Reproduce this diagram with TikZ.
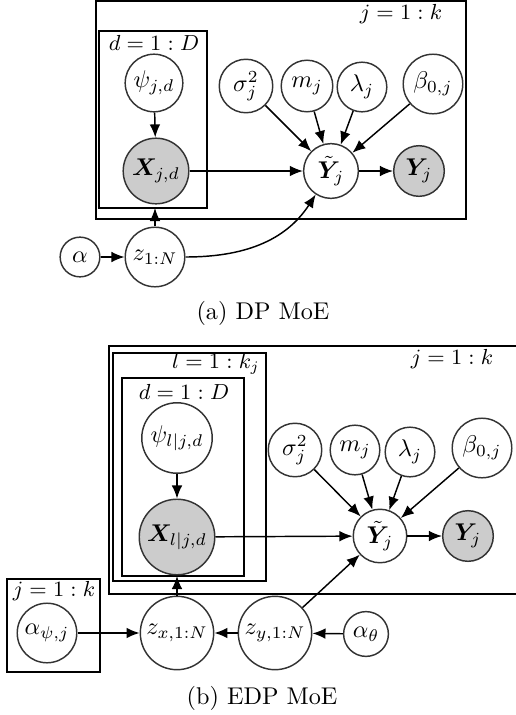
\documentclass[tikz,border=0pt]{standalone}
\usepackage{bm}
\usetikzlibrary{arrows.meta}
\tikzset{
  var/.style={circle,draw=black!80,line width=0.6pt,inner sep=0pt,fill=white},
  obs/.style={var,fill=black!20},
  plate/.style={draw=black,line width=0.85pt},
  platelabel/.style={inner sep=0pt,font=\fontsize{8.6pt}{10pt}\selectfont},
  edge/.style={draw=black,line width=0.6pt,-{Latex[length=5.4pt,width=4.4pt]}},
}
\begin{document}
\begin{tikzpicture}[x=0.413pt,y=-0.413pt]
\useasboundingbox (0,0) rectangle (516,715);

% ---------------- (a) DP MoE ----------------
\draw[plate] (96,1) rectangle (466,219);
\node[platelabel] (alabj) at (401,14) {$j=1:k$};
\draw[plate] (99,31) rectangle (207,208);
\node[platelabel] (alabd) at (154,43) {$d=1:D$};
\coordinate (aplateS) at (154,208);

\node[var,minimum size=23.8pt] (apsi) at (154,83) {$\psi_{j,d}$};
\node[obs,minimum size=27.1pt] (aX) at (156,171) {$\bm{X}_{j,d}$};
\node[var,minimum size=22.1pt] (asig) at (246,86) {$\sigma^2_j$};
\node[var,minimum size=21.3pt] (am) at (307,86) {$m_j$};
\node[var,minimum size=20.5pt] (alam) at (362,87) {$\lambda_j$};
\node[var,minimum size=24.6pt] (abeta) at (433,84) {$\beta_{0,j}$};
\node[var,minimum size=22.6pt] (aYt) at (331,171) {$\tilde{\bm{Y}}_j$};
\node[obs,minimum size=20.9pt] (aY) at (419,171) {$\bm{Y}_j$};
\node[var,minimum size=16.4pt] (aalpha) at (80,257) {$\alpha$};
\node[var,minimum size=24.6pt] (az) at (155,257) {$z_{1:N}$};

\draw[edge] (apsi) -- (aX);
\draw[edge] (aX) -- (aYt);
\draw[edge] (asig) -- (aYt);
\draw[edge] (am) -- (aYt);
\draw[edge] (alam) -- (aYt);
\draw[edge] (abeta) -- (aYt);
\draw[edge] (aYt) -- (aY);
\draw[edge] (aalpha) -- (az);
\draw[edge] (az) -- (az |- aplateS);
\draw[edge] (az) to[out=0,in=237] (aYt);

\node (capa) at (263,313) {(a) DP MoE};

% ---------------- (b) EDP MoE ----------------
\draw[plate] (516,346) -- (109,346) -- (109,594) -- (516,594);
\node[platelabel] (blabj) at (452,359) {$j=1:k$};
\draw[plate] (113,353) rectangle (266,581);
\node[platelabel] (blabl) at (216,364) {$l=1:k_j$};
\draw[plate] (122,378) rectangle (244,576);
\node[platelabel] (blabd) at (184,392) {$d=1:D$};
\coordinate (bplateS) at (177,576);
\draw[plate] (7,579) rectangle (100,672);
\node[platelabel] (blabj2) at (54,591) {$j=1:k$};

\node[var,minimum size=29.1pt] (bpsi) at (177,438) {$\psi_{l|j,d}$};
\node[obs,minimum size=31.2pt] (bX) at (177,537) {$\bm{X}_{l|j,d}$};
\node[var,minimum size=22.1pt] (bsig) at (295,450) {$\sigma^2_j$};
\node[var,minimum size=20.5pt] (bm) at (355,450) {$m_j$};
\node[var,minimum size=20.5pt] (blam) at (410,452) {$\lambda_j$};
\node[var,minimum size=24.6pt] (bbeta) at (482,448) {$\beta_{0,j}$};
\node[var,minimum size=22.1pt] (bYt) at (380,536) {$\tilde{\bm{Y}}_j$};
\node[obs,minimum size=20.9pt] (bY) at (468,536) {$\bm{Y}_j$};
\node[var,minimum size=24.6pt] (balpsi) at (47,633) {$\alpha_{\psi,j}$};
\node[var,minimum size=30.3pt] (bzx) at (177,633) {$z_{x,1:N}$};
\node[var,minimum size=30.3pt] (bzy) at (275,633) {$z_{y,1:N}$};
\node[var,minimum size=18.5pt] (balth) at (366,634) {$\alpha_\theta$};

\draw[edge] (bpsi) -- (bX);
\draw[edge] (bX) -- (bYt);
\draw[edge] (bsig) -- (bYt);
\draw[edge] (bm) -- (bYt);
\draw[edge] (blam) -- (bYt);
\draw[edge] (bbeta) -- (bYt);
\draw[edge] (bYt) -- (bY);
\draw[edge] (balpsi) -- (bzx);
\draw[edge] (bzy) -- (bzx);
\draw[edge] (balth) -- (bzy);
\draw[edge] (bzx) -- (bzx |- bplateS);
\draw[edge] (bzy) -- (bYt);

\node (capb) at (262,698) {(b) EDP MoE};
\end{tikzpicture}
\end{document}
